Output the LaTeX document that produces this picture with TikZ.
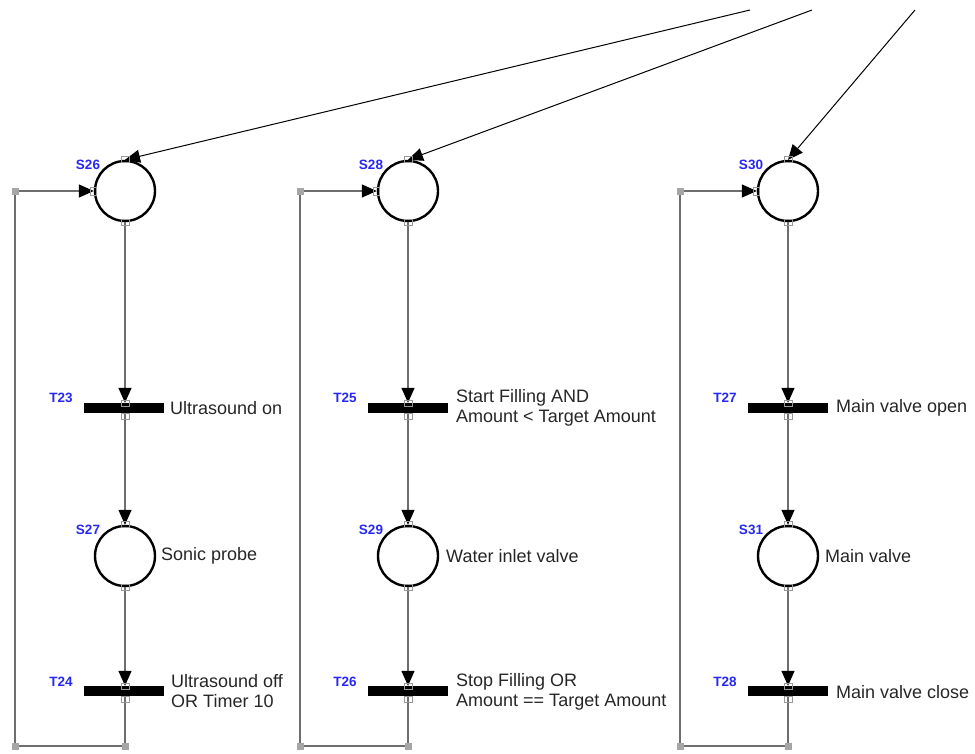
\documentclass[tikz,border=0pt]{standalone}
\usepackage{fontspec}
\setmainfont{Liberation Sans}
\usetikzlibrary{arrows.meta}
\definecolor{lblblue}{RGB}{40,40,245}
\definecolor{wire}{RGB}{110,110,110}
\begin{document}
\begin{tikzpicture}[x=1pt,y=-1pt,
  place/.style={circle,draw=black,line width=2.4pt,minimum size=60pt,inner sep=0pt},
  trans/.style={rectangle,fill=black,minimum width=80pt,minimum height=10pt,inner sep=0pt},
  tag/.style={font=\bfseries\fontsize{13.5}{15}\selectfont,text=lblblue,inner sep=0pt},
  desc/.style={anchor=west,align=left,inner sep=0pt,font=\fontsize{18}{20}\selectfont,text=black!85},
  flow/.style={draw=wire,line width=1.4pt,-{Triangle[length=15pt,width=13pt,color=black]}},
  inarc/.style={draw=black,line width=1pt,-{Triangle[length=15pt,width=13pt,color=black]}},
  back/.style={draw=wire,line width=1.4pt},
  port/.style={draw=gray!80,line width=0.7pt,minimum width=8pt,minimum height=6pt,inner sep=0pt},
  corner/.style={fill=gray!70,minimum size=7pt,inner sep=0pt}]
\useasboundingbox (0,0) rectangle (975,753);

% ---- places and transitions ----
\node[place] (S26) at (125,191) {};
\node[trans] (T23) at (124,408) {};
\node[place] (S27) at (125,556) {};
\node[trans] (T24) at (124,691) {};

\node[place] (S28) at (408,191) {};
\node[trans] (T25) at (408,408) {};
\node[place] (S29) at (408,556) {};
\node[trans] (T26) at (408,691) {};

\node[place] (S30) at (788,191) {};
\node[trans] (T27) at (788,408) {};
\node[place] (S31) at (788,556) {};
\node[trans] (T28) at (788,691) {};

% ---- identifiers ----
\node[tag] (lS26) at (88,165) {S26};
\node[tag] (lT23) at (61,398) {T23};
\node[tag] (lS27) at (88,530) {S27};
\node[tag] (lT24) at (61,682) {T24};
\node[tag] (lS28) at (371,165) {S28};
\node[tag] (lT25) at (345,398) {T25};
\node[tag] (lS29) at (371,530) {S29};
\node[tag] (lT26) at (345,682) {T26};
\node[tag] (lS30) at (751,165) {S30};
\node[tag] (lT27) at (725,398) {T27};
\node[tag] (lS31) at (751,530) {S31};
\node[tag] (lT28) at (725,682) {T28};

% ---- descriptions ----
\node[desc] (dT23) at (170,408) {Ultrasound on};
\node[desc] (dS27) at (161,556) {Sonic probe};
\node[desc] (dT24) at (171,691) {Ultrasound off\\OR Timer 10};
\node[desc] (dT25) at (456,408) {Start Filling AND\\Amount < Target Amount};
\node[desc] (dS29) at (446,556) {Water inlet valve};
\node[desc] (dT26) at (456,692) {Stop Filling OR\\Amount == Target Amount};
\node[desc] (dT27) at (836,408) {Main valve open};
\node[desc] (dS31) at (825,556) {Main valve};
\node[desc] (dT28) at (836,692) {Main valve close};

% ---- incoming arcs from above ----
\coordinate (in1) at (750,10);
\coordinate (in2) at (812,10);
\coordinate (in3) at (915,10);
\draw[inarc] (in1) -- (S26.north);
\draw[inarc] (in2) -- (S28.north);
\draw[inarc] (in3) -- (S30.north);

% ---- chains ----
\foreach \p/\t/\q/\u in {S26/T23/S27/T24, S28/T25/S29/T26, S30/T27/S31/T28}{
  \draw[flow] (\p.south) -- (\p.south |- \t.north);
  \draw[flow] (\p.south |- \t.south) -- (\q.north);
  \draw[flow] (\q.south) -- (\q.south |- \u.north);
}

% ---- feedback loops ----
\coordinate (b1) at (125,746); \coordinate (a1) at (15,746); \coordinate (l1) at (15,191);
\coordinate (b2) at (408,746); \coordinate (a2) at (300,746); \coordinate (l2) at (300,191);
\coordinate (b3) at (788,746); \coordinate (a3) at (680,746); \coordinate (l3) at (680,191);
\draw[back] (T24.south -| S27.south) -- (b1) -- (a1) -- (l1);
\draw[flow] (l1) -- (S26.west);
\draw[back] (T26.south) -- (b2) -- (a2) -- (l2);
\draw[flow] (l2) -- (S28.west);
\draw[back] (T28.south) -- (b3) -- (a3) -- (l3);
\draw[flow] (l3) -- (S30.west);
\foreach \c in {b1,a1,l1,b2,a2,l2,b3,a3,l3}{ \node[corner] at (\c) {}; }

% ---- connection ports ----
\foreach \p in {S26,S27,S28,S29,S30,S31}{
  \node[port] at (\p.north) {};
  \node[port] at (\p.south) {};
}
\foreach \p in {S26,S28,S30}{ \node[port,minimum width=6pt,minimum height=8pt] at (\p.west) {}; }
\foreach \t/\p in {T23/S26,T24/S27,T25/S28,T26/S29,T27/S30,T28/S31}{
  \node[port] at ([yshift=-1pt]\p.south |- \t.north) {};
  \node[port] at ([yshift=-3pt]\p.south |- \t.south) {};
}
\end{tikzpicture}
\end{document}
